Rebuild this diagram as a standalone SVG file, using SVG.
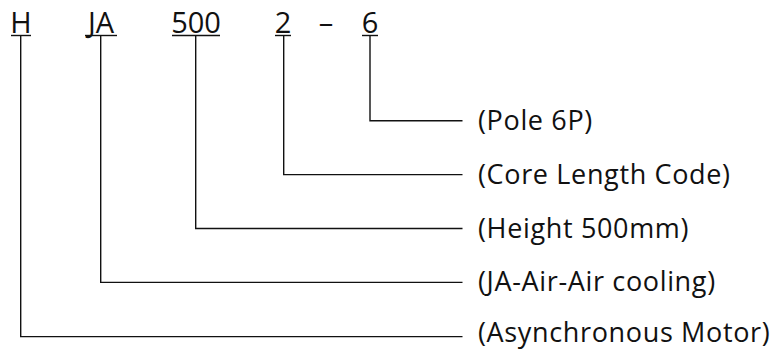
<svg xmlns="http://www.w3.org/2000/svg" width="776" height="349" viewBox="0 0 776 349">
<style>
.code{font-family:"Open Sans","Noto Sans",sans-serif;font-size:29px;font-weight:500;fill:#111;text-anchor:middle}
.lbl{font-family:"Open Sans","Noto Sans",sans-serif;font-size:27px;font-weight:500;fill:#111;letter-spacing:0.65px}
.ul{stroke:#111;stroke-width:1.4}
.conn{fill:none;stroke:#111;stroke-width:1.4}
</style>
<rect width="776" height="349" fill="#fff"/>
<g id="code-H"><text class="code" x="21" y="33.3">H</text><line class="ul" x1="11" y1="35.5" x2="31" y2="35.5"/></g>
<g id="code-JA"><text class="code" x="101" y="33.3">JA</text><line class="ul" x1="85" y1="35.5" x2="117" y2="35.5"/></g>
<g id="code-500"><text class="code" x="196" y="33.3">500</text><line class="ul" x1="172" y1="35.5" x2="220" y2="35.5"/></g>
<g id="code-2"><text class="code" x="283" y="33.3">2</text><line class="ul" x1="275" y1="35.5" x2="291" y2="35.5"/></g>
<g id="code-dash"><text class="code" x="326" y="33.3">–</text></g>
<g id="code-6"><text class="code" x="370" y="33.3">6</text><line class="ul" x1="362" y1="35.5" x2="378" y2="35.5"/></g>
<g id="connectors">
<polyline class="conn" points="370,35.5 370,120.7 462.5,120.7"/>
<polyline class="conn" points="283.7,35.5 283.7,174.6 462.5,174.6"/>
<polyline class="conn" points="195.7,35.5 195.7,228.5 462.5,228.5"/>
<polyline class="conn" points="100.7,35.5 100.7,282.4 462.5,282.4"/>
<polyline class="conn" points="20.7,35.5 20.7,336.6 462.5,336.6"/>
</g>
<g id="label-pole"><text class="lbl" x="478" y="129.7">(Pole 6P)</text></g>
<g id="label-core"><text class="lbl" x="478" y="183.6">(Core Length Code)</text></g>
<g id="label-height"><text class="lbl" x="478" y="237.5">(Height 500mm)</text></g>
<g id="label-ja"><text class="lbl" x="478" y="291.4">(JA-Air-Air cooling)</text></g>
<g id="label-async"><text class="lbl" x="478" y="342.3">(Asynchronous Motor)</text></g>
</svg>
